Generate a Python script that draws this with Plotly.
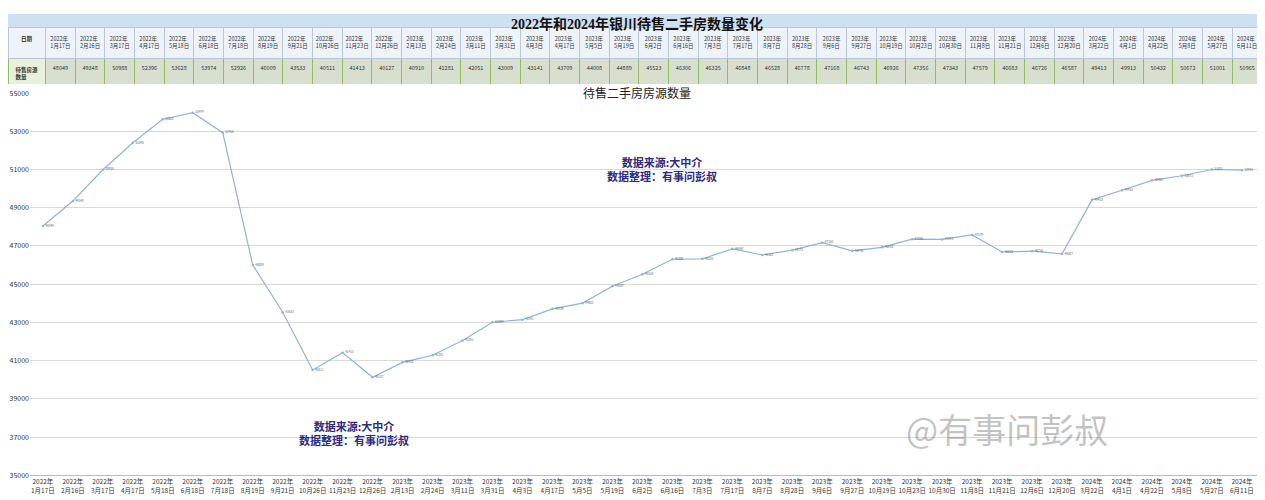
import plotly.graph_objects as go

dates = ["2022年<br>1月17日", "2022年<br>2月16日", "2022年<br>3月17日", "2022年<br>4月17日", "2022年<br>5月18日",
         "2022年<br>6月18日", "2022年<br>7月18日", "2022年<br>8月19日", "2022年<br>9月21日", "2022年<br>10月26日",
         "2022年<br>11月23日", "2022年<br>12月26日", "2023年<br>2月13日", "2023年<br>2月24日", "2023年<br>3月11日",
         "2023年<br>3月31日", "2023年<br>4月3日", "2023年<br>4月17日", "2023年<br>5月5日", "2023年<br>5月19日",
         "2023年<br>6月2日", "2023年<br>6月16日", "2023年<br>7月3日", "2023年<br>7月17日", "2023年<br>8月7日",
         "2023年<br>8月28日", "2023年<br>9月6日", "2023年<br>9月27日", "2023年<br>10月19日", "2023年<br>10月23日",
         "2023年<br>10月30日", "2023年<br>11月8日", "2023年<br>11月21日", "2023年<br>12月6日", "2023年<br>12月20日",
         "2024年<br>3月22日", "2024年<br>4月1日", "2024年<br>4月22日", "2024年<br>5月8日", "2024年<br>5月27日",
         "2024年<br>6月11日"]
listings = [48049, 49348, 50988, 52396, 53628, 53974, 52926, 46009, 43533, 40511, 41413, 40127, 40910, 41281,
            42051, 43009, 43141, 43709, 44008, 44889, 45523, 46306, 46325, 46848, 46528, 46778, 47168, 46743,
            46926, 47356, 47343, 47579, 46683, 46726, 46587, 49413, 49913, 50432, 50672, 51001, 50965]
y_ticks = list(range(35000, 55001, 2000))

W, H = 1257, 492  # page adds a small body margin


def py(p):  # reference pixel row -> paper fraction
    return 1 - max(p - 14, 0) / 0.979 / H


def px(p):
    return (p - 8) / W


idx = list(range(len(dates)))
fig = go.Figure()

# spreadsheet-style table on top
fig.add_trace(go.Table(
    domain=dict(x=[px(8), px(1262)], y=[py(84), py(27)]),
    columnwidth=[38] + [30] * len(dates),
    header=dict(values=["<b>日期</b>"] + dates, height=21,
                fill_color="#eef3fa", line_color="#b9c6d6",
                font=dict(size=5.5, color="#333"), align="center"),
    cells=dict(values=[["<b>待售房源<br>数量</b>"]] + [[v] for v in listings], height=22,
               fill_color=[["#e8f0dc"]] + [["#d9dfcf"]] * len(dates), line_color="#8fbf5f",
               font=dict(size=5.5, color="#333"), align="center"),
))

fig.add_trace(go.Scatter(
    x=idx, y=listings, mode="lines+markers+text",
    line=dict(color="#8db3e0", width=1.2),
    marker=dict(size=2.5, color="#8db3e0"),
    text=[str(v) for v in listings], textposition="middle right",
    textfont=dict(size=3, color="#666"),
    hoverinfo="x+y",
))

fig.update_layout(
    width=W, height=H, margin=dict(l=0, r=0, t=0, b=0),
    paper_bgcolor="white", plot_bgcolor="white", showlegend=False,
    font=dict(family="Noto Sans CJK SC"),
    xaxis=dict(domain=[px(30), px(1262)], range=[-0.43, 40.67], tickvals=idx, ticktext=dates,
               tickangle=0, tickfont=dict(size=6.5, color="#333"), showgrid=False, zeroline=False,
               showline=True, linecolor="#bbb"),
    yaxis=dict(domain=[py(475), py(93)], range=[35000, 55000], tickvals=y_ticks, tickformat="d",
               tickfont=dict(size=7, color="#333"), gridcolor="#d9d9d9", zeroline=False),
    shapes=[dict(type="rect", xref="paper", yref="paper", x0=0, x1=1, y0=py(27), y1=1,
                 fillcolor="#cfe0f1", line_width=0, layer="below")],
    annotations=[
        dict(text="<b>2022年和2024年银川待售二手房数量变化</b>", x=0.5, y=1, yanchor="top", xref="paper", yref="paper",
             showarrow=False, font=dict(size=14, family="Liberation Serif, Noto Sans CJK SC", color="#111")),
        dict(text="待售二手房房源数量", x=0.5, y=py(82), xref="paper", yref="paper",
             showarrow=False, font=dict(size=12, color="#222")),
        dict(text="<b>数据来源:大中介<br>数据整理：有事问彭叔</b>", x=px(662), y=py(152), xref="paper", yref="paper",
             showarrow=False, font=dict(size=11, color="#2d2a80")),
        dict(text="<b>数据来源:大中介<br>数据整理：有事问彭叔</b>", x=px(297), y=py(450), xref="paper", yref="paper",
             showarrow=False, font=dict(size=11, color="#2d2a80")),
        dict(text="@有事问彭叔", x=px(1110), y=py(455), xref="paper", yref="paper",
             showarrow=False, font=dict(size=34, color="rgba(120,120,120,0.45)")),
    ],
)

fig.write_html("out.html")
